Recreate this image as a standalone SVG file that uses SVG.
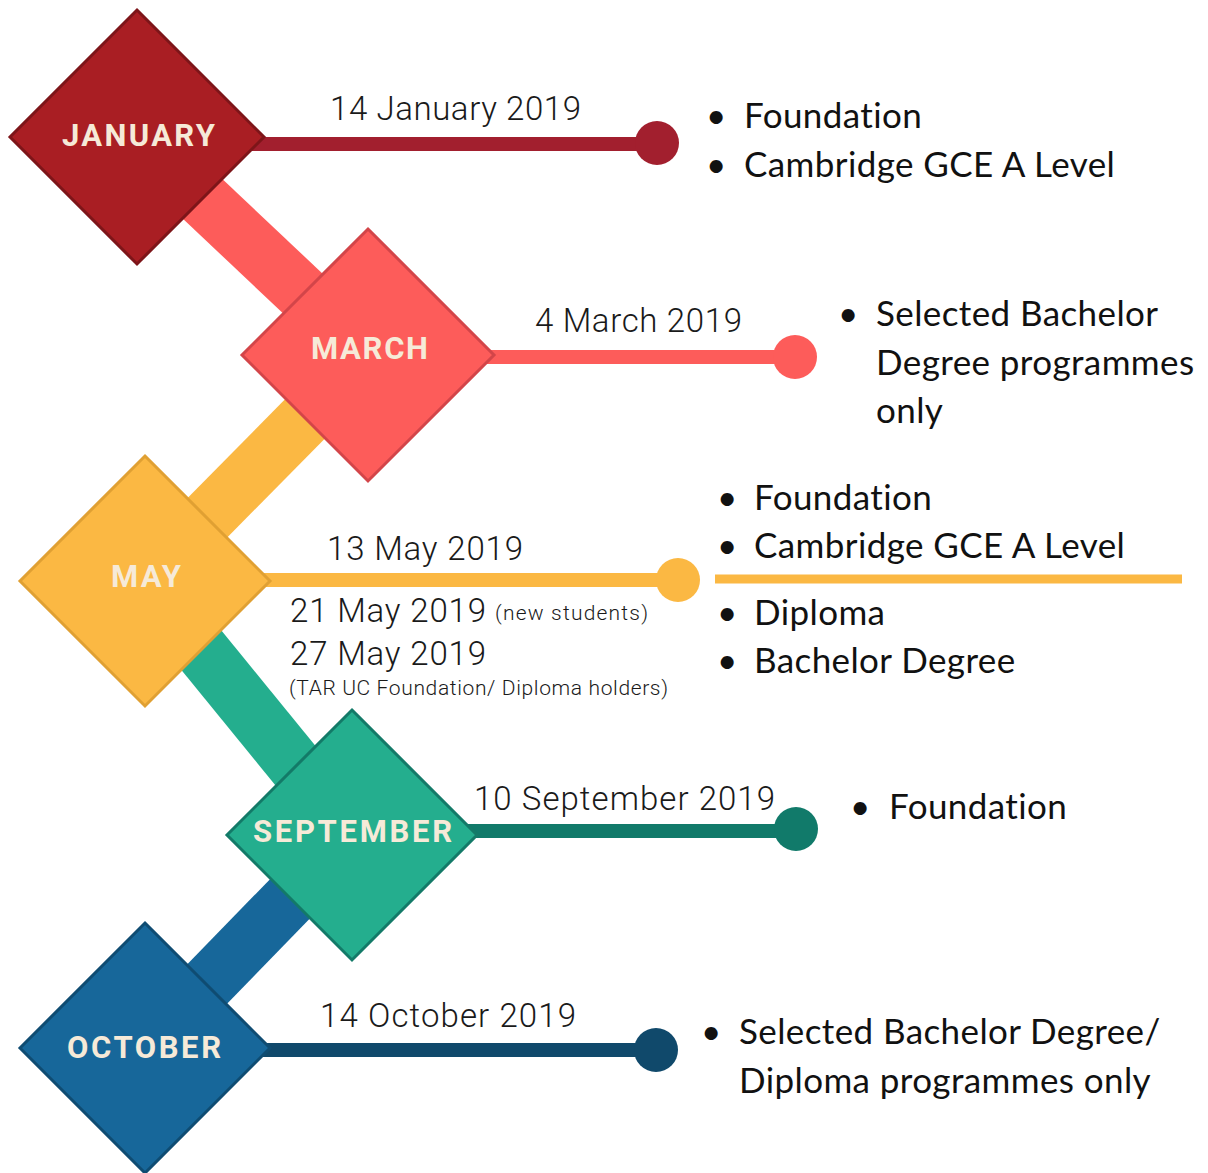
<svg xmlns="http://www.w3.org/2000/svg" width="1208" height="1173" viewBox="0 0 1208 1173">
<style>
.band{fill:none;stroke-width:56;stroke-linecap:butt}
.hl{stroke-width:14;stroke-linecap:butt}
.dia{stroke-width:3}
.mon{font-family:Roboto,"Liberation Sans",sans-serif;font-weight:700;font-size:31px;fill:#f6ead8}
.date{font-family:Roboto,"Liberation Sans",sans-serif;font-weight:300;font-size:33px;fill:#1a1a1a}
.small{font-family:Roboto,"Liberation Sans",sans-serif;font-weight:300;font-size:21px;fill:#1a1a1a}
.bul{font-family:Lato,"Open Sans",sans-serif;font-size:35px;letter-spacing:0.4px;fill:#111}
</style>
<rect width="1208" height="1173" fill="#ffffff"/>
<g id="connectors">
<line class="band" x1="137" y1="137" x2="368" y2="355" stroke="#fd5c5a"/>
<line class="band" x1="368" y1="355" x2="145" y2="581" stroke="#fbb843"/>
<line class="band" x1="145" y1="581" x2="352" y2="835" stroke="#24ae8e"/>
<line class="band" x1="352" y1="835" x2="145" y2="1048" stroke="#17679a"/>
<line class="hl" x1="250" y1="144" x2="657" y2="144" stroke="#a21f2e"/>
<circle cx="657" cy="143" r="22" fill="#a21f2e"/>
<line class="hl" x1="480" y1="357" x2="795" y2="357" stroke="#fd5c5a"/>
<circle cx="795" cy="357" r="22" fill="#fd5c5a"/>
<line class="hl" x1="255" y1="580" x2="678" y2="580" stroke="#fbb843"/>
<circle cx="678" cy="580" r="22" fill="#fbb843"/>
<line x1="715" y1="579" x2="1182" y2="579" stroke="#fbb843" stroke-width="9"/>
<line class="hl" x1="460" y1="831" x2="796" y2="831" stroke="#117a6a"/>
<circle cx="796" cy="829" r="22" fill="#117a6a"/>
<line class="hl" x1="255" y1="1050" x2="656" y2="1050" stroke="#10496b"/>
<circle cx="656" cy="1050" r="22" fill="#10496b"/>
</g>
<g id="january">
<polygon class="dia" points="137,10 264,137 137,264 10,137" fill="#a91e23" stroke="#7d1519"/>
<text class="mon" x="62" y="146" textLength="153" lengthAdjust="spacing">JANUARY</text>
<text class="date" x="330" y="120" textLength="251" lengthAdjust="spacing">14 January 2019</text>
<text class="bul" x="706" y="128">•</text>
<text class="bul" x="744" y="128">Foundation</text>
<text class="bul" x="706" y="177">•</text>
<text class="bul" x="744" y="177">Cambridge GCE A Level</text>
</g>
<g id="march">
<polygon class="dia" points="368,229 494,355 368,481 242,355" fill="#fd5c5a" stroke="#d34549"/>
<text class="mon" x="311" y="359" textLength="117" lengthAdjust="spacing">MARCH</text>
<text class="date" x="535" y="332" textLength="207" lengthAdjust="spacing">4 March 2019</text>
<text class="bul" x="838" y="326">•</text>
<text class="bul" x="876" y="326">Selected Bachelor</text>
<text class="bul" x="876" y="375">Degree programmes</text>
<text class="bul" x="876" y="423">only</text>
</g>
<g id="may">
<polygon class="dia" points="145,456 270,581 145,706 20,581" fill="#fbb843" stroke="#e0a033"/>
<text class="mon" x="111" y="587" textLength="70" lengthAdjust="spacing">MAY</text>
<text class="date" x="327" y="560" textLength="196" lengthAdjust="spacing">13 May 2019</text>
<text class="date" x="290" y="622" textLength="196" lengthAdjust="spacing">21 May 2019</text>
<text class="small" x="495" y="620" textLength="153" lengthAdjust="spacing">(new students)</text>
<text class="date" x="290" y="665" textLength="196" lengthAdjust="spacing">27 May 2019</text>
<text class="small" x="289" y="695" textLength="379" lengthAdjust="spacing">(TAR UC Foundation/ Diploma holders)</text>
<text class="bul" x="717" y="510">•</text>
<text class="bul" x="754" y="510">Foundation</text>
<text class="bul" x="717" y="558">•</text>
<text class="bul" x="754" y="558">Cambridge GCE A Level</text>
<text class="bul" x="717" y="625">•</text>
<text class="bul" x="754" y="625">Diploma</text>
<text class="bul" x="717" y="673">•</text>
<text class="bul" x="754" y="673">Bachelor Degree</text>
</g>
<g id="september">
<polygon class="dia" points="352,710 477,835 352,960 227,835" fill="#24ae8e" stroke="#137a68"/>
<text class="mon" x="253" y="842" textLength="199" lengthAdjust="spacing">SEPTEMBER</text>
<text class="date" x="474" y="810" textLength="301" lengthAdjust="spacing">10 September 2019</text>
<text class="bul" x="850" y="819">•</text>
<text class="bul" x="889" y="819">Foundation</text>
</g>
<g id="october">
<polygon class="dia" points="145,923 270,1048 145,1173 20,1048" fill="#17679a" stroke="#0f4c72"/>
<text class="mon" x="67" y="1058" textLength="154" lengthAdjust="spacing">OCTOBER</text>
<text class="date" x="320" y="1027" textLength="256" lengthAdjust="spacing">14 October 2019</text>
<text class="bul" x="701" y="1044">•</text>
<text class="bul" x="739" y="1044">Selected Bachelor Degree/</text>
<text class="bul" x="739" y="1093">Diploma programmes only</text>
</g>
</svg>
